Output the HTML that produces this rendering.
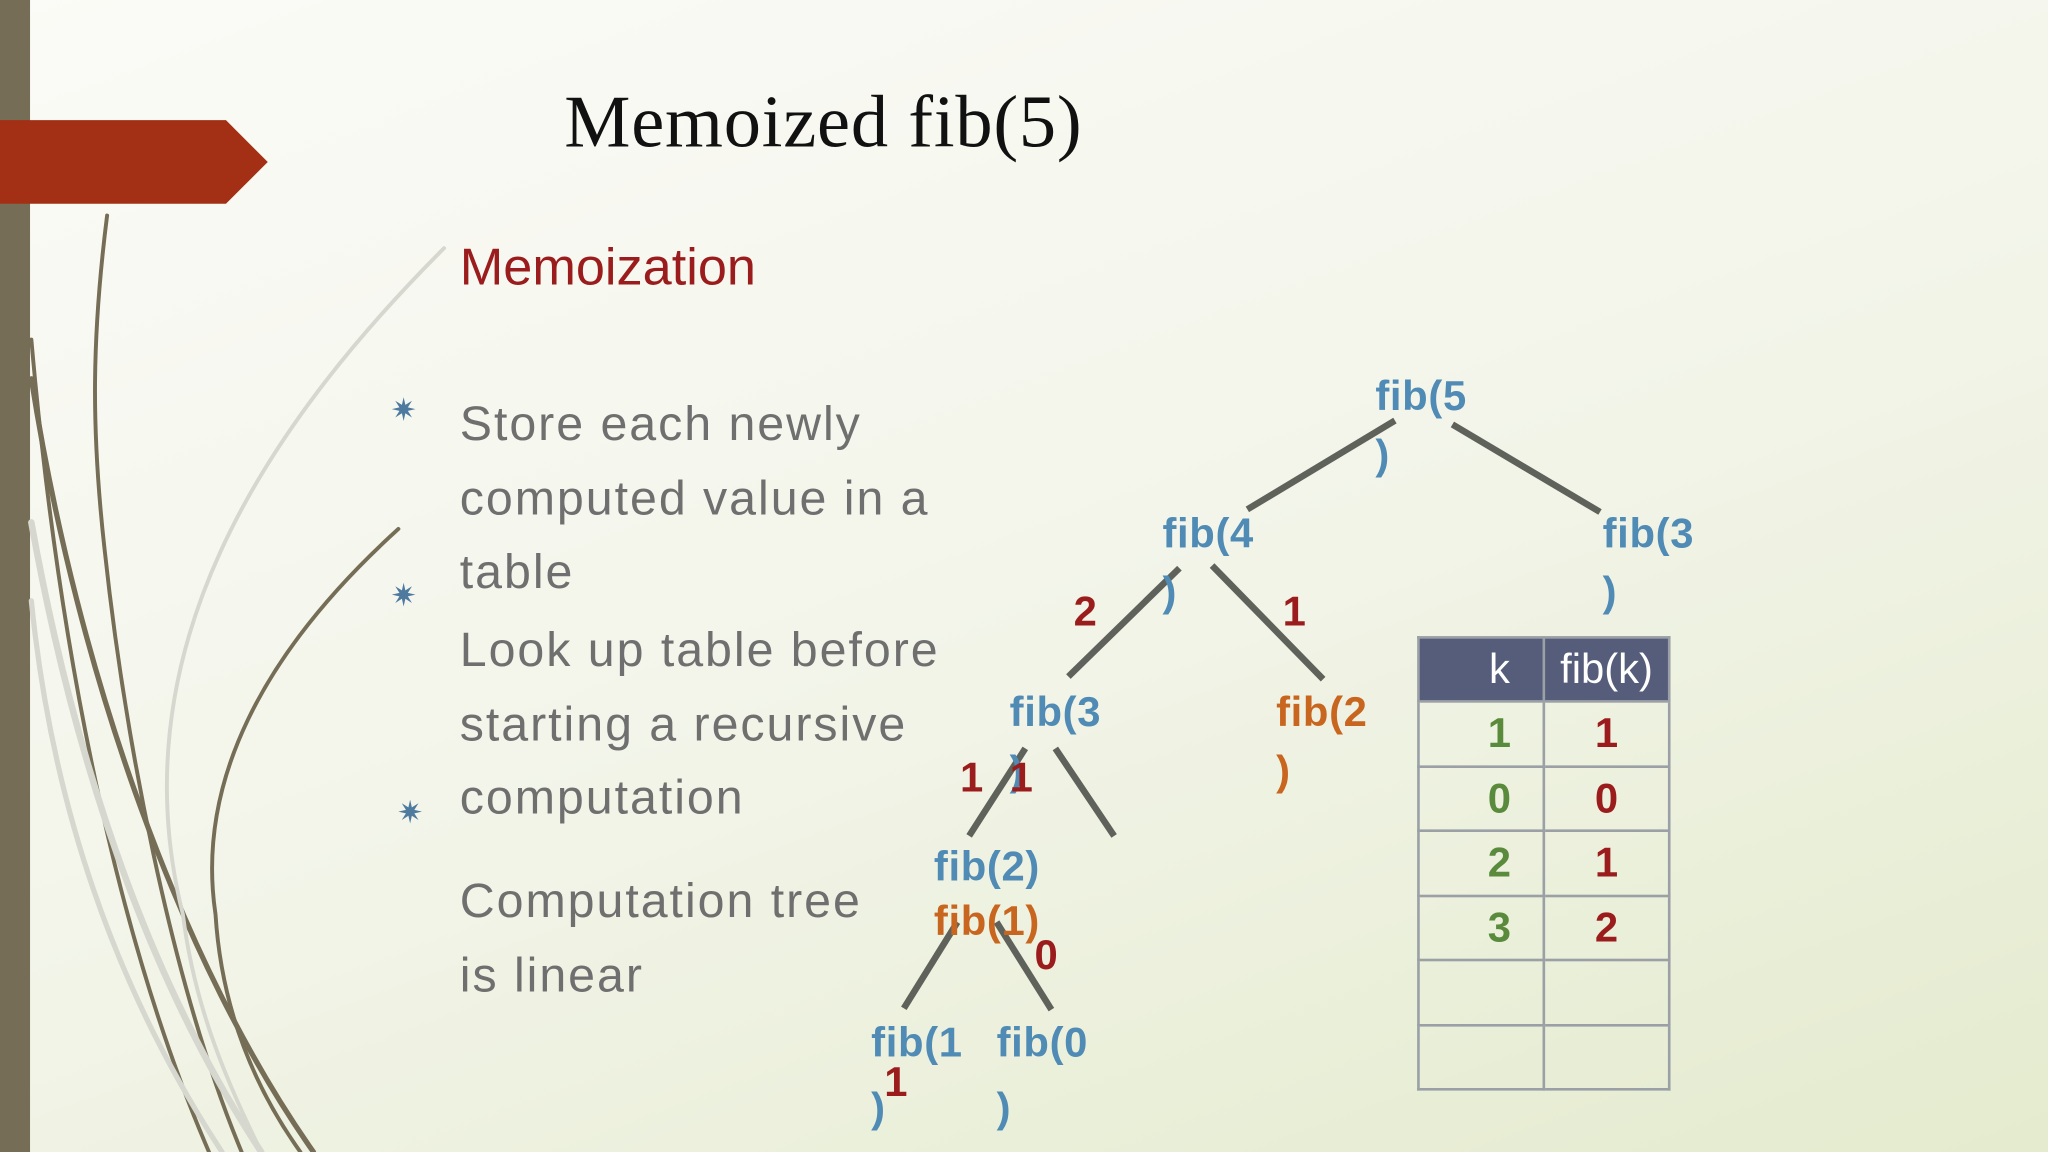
<!DOCTYPE html>
<html><head><meta charset="utf-8"><style>
html,body{margin:0;padding:0;overflow:hidden;width:2048px;height:1152px}
#s{position:absolute;left:0;top:0;width:1568px;height:882px;transform:scale(1.306122);transform-origin:0 0;background:linear-gradient(160deg,#fbfbf7 0%,#f3f5ea 50%,#e4ebce 100%);font-family:"Liberation Sans",sans-serif}
.t{position:absolute;white-space:nowrap}
.b{font-weight:bold;font-size:32px;color:#4f8bb5;letter-spacing:0.5px}
.o{color:#c8651f}.r{color:#9b1c1c}
.g{font-size:37px;color:#6f6f6f;letter-spacing:1.5px}
table{position:absolute;left:1085px;top:487px;border-collapse:collapse}
td{border:2px solid #9aa0a6;width:94px;height:47.5px;text-align:center;font-weight:bold;font-size:32px;padding:0}
td.k,th.k{padding-left:28px;width:66px}
th{background:#555d7a;color:#fff;font-weight:normal;font-size:32px;height:47px;border:2px solid #9aa0a6;padding:0}
</style></head><body><div id="s">
<svg width="1568" height="882" style="position:absolute;left:0;top:0">
<rect x="0" y="0" width="23" height="882" fill="#756d55"/>
<polygon points="0,92 173,92 205,124 173,156 0,156" fill="#a32f14"/>
<g fill="none" stroke-linecap="round">
<path d="M82,165 C70,260 70,330 80,420 C95,560 130,750 185,882" stroke="#756d55" stroke-width="3"/>
<path d="M24,290 C60,520 140,740 240,882" stroke="#756d55" stroke-width="4"/>
<path d="M24,260 C45,500 90,720 160,882" stroke="#756d55" stroke-width="3"/>
<path d="M340,190 C200,330 90,500 140,700 C150,780 180,840 200,882" stroke="#d6d8cf" stroke-width="3"/>
<path d="M24,400 C60,600 120,760 200,882" stroke="#d6d8cf" stroke-width="5"/>
<path d="M24,460 C40,620 90,760 170,882" stroke="#d6d8cf" stroke-width="4"/>
<path d="M305,405 C200,500 150,600 165,700 C170,780 200,840 230,882" stroke="#756d55" stroke-width="3"/>
</g>
<g stroke="#5f625a" stroke-width="5">
<line x1="955" y1="390" x2="1068" y2="322"/><line x1="1112" y1="325" x2="1225" y2="392"/>
<line x1="903" y1="435" x2="818" y2="518"/><line x1="928" y1="433" x2="1013" y2="520"/>
<line x1="785" y1="573" x2="742" y2="640"/><line x1="808" y1="573" x2="853" y2="640"/>
<line x1="733" y1="706" x2="692" y2="772"/><line x1="763" y1="706" x2="805" y2="773"/>
</g>
<g fill="#4f7aa0" font-size="24" font-family="DejaVu Sans"><text x="299" y="322">✷</text><text x="299" y="464">✷</text><text x="304" y="630">✷</text></g>
</svg>
<div class="t" style="left:432px;top:61px;font-family:'Liberation Serif',serif;font-size:57px;letter-spacing:0.6px;color:#111">Memoized fib(5)</div>
<div class="t r" style="left:352px;top:183px;font-size:40px">Memoization</div>
<div class="t g" style="left:352px;top:304px">Store each newly</div>
<div class="t g" style="left:352px;top:361px">computed value in a</div>
<div class="t g" style="left:352px;top:417px">table</div>
<div class="t g" style="left:352px;top:477px">Look up table before</div>
<div class="t g" style="left:352px;top:534px">starting a recursive</div>
<div class="t g" style="left:352px;top:590px">computation</div>
<div class="t g" style="left:352px;top:669px">Computation tree</div>
<div class="t g" style="left:352px;top:726px">is linear</div>
<div class="t b" style="left:1053px;top:285px">fib(5</div><div class="t b" style="left:1053px;top:330px">)</div>
<div class="t b" style="left:890px;top:390px">fib(4</div><div class="t b" style="left:890px;top:435px">)</div>
<div class="t b r" style="left:822px;top:450px">2</div><div class="t b r" style="left:982px;top:450px">1</div>
<div class="t b" style="left:1227px;top:390px">fib(3</div><div class="t b" style="left:1227px;top:435px">)</div>
<div class="t b" style="left:773px;top:527px">fib(3</div><div class="t b" style="left:773px;top:572px">)</div>
<div class="t b r" style="left:735px;top:577px">1</div><div class="t b r" style="left:773px;top:577px">1</div>
<div class="t b o" style="left:977px;top:527px">fib(2</div><div class="t b o" style="left:977px;top:572px">)</div>
<div class="t b" style="left:715px;top:645px">fib(2)</div>
<div class="t b o" style="left:715px;top:687px">fib(1)</div>
<div class="t b r" style="left:792px;top:713px">0</div>
<div class="t b" style="left:667px;top:780px">fib(1</div><div class="t b" style="left:667px;top:830px">)</div>
<div class="t b r" style="left:677px;top:810px">1</div>
<div class="t b" style="left:763px;top:780px">fib(0</div><div class="t b" style="left:763px;top:830px">)</div>
<table>
<tr><th class="k">k</th><th>fib(k)</th></tr>
<tr><td class="k" style="color:#5a8a3c">1</td><td class="r">1</td></tr>
<tr><td class="k" style="color:#5a8a3c">0</td><td class="r">0</td></tr>
<tr><td class="k" style="color:#5a8a3c">2</td><td class="r">1</td></tr>
<tr><td class="k" style="color:#5a8a3c">3</td><td class="r">2</td></tr>
<tr><td class="k"></td><td></td></tr>
<tr><td class="k"></td><td></td></tr>
</table>
</div></body></html>
